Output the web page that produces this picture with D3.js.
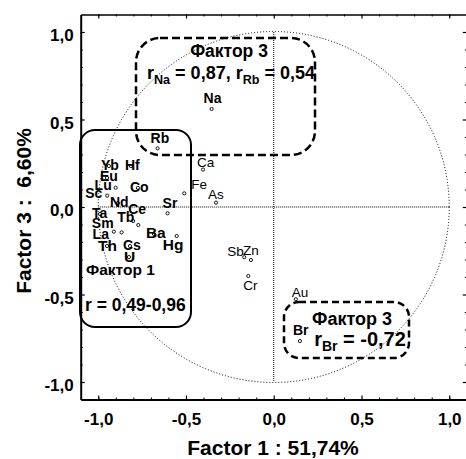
<!DOCTYPE html>
<html>
<head>
<meta charset="utf-8">
<script src="https://cdn.jsdelivr.net/npm/d3@7"></script>
<style>
  html, body { margin: 0; padding: 0; background: #fff; }
  svg { display: block; font-family: Arial, "Liberation Sans", sans-serif; }
  text { white-space: pre; }
</style>
</head>
<body>
<svg id="chart" width="466" height="459"></svg>
<script>
// Factor loadings (Factor 1 vs Factor 3) for each element
const elements = ["Na","Rb","Ca","Fe","As","Sb","Zn","Cr","Au","Br",
                  "Sr","Lu","Sc","Ce","Tb","Sm","La","Hg",
                  "Yb","Hf","Eu","Co","Nd","Ta","Ba","Th","Cs","U"];
const factor1 = [-0.354,-0.662,-0.403,-0.510,-0.329,-0.168,-0.130,-0.145, 0.126, 0.149,
                 -0.605,-0.901,-0.949,-0.801,-0.772,-0.911,-0.867,-0.553,
                 -0.939,-0.814,-0.950,-0.774,-0.888,-0.990,-0.683,-0.950,-0.819,-0.825];
const factor3 = [ 0.560, 0.335, 0.214, 0.078, 0.025,-0.287,-0.303,-0.394,-0.527,-0.766,
                 -0.036, 0.110, 0.065,-0.080,-0.103,-0.141,-0.145,-0.166,
                  0.234, 0.234, 0.166, 0.109, 0.023,-0.040,-0.154,-0.223,-0.223,-0.286];

const majorTicks = [-1.0, -0.5, 0.0, 0.5, 1.0];
const minorTicks = [-1.0,-0.9,-0.8,-0.7,-0.6,-0.4,-0.3,-0.2,-0.1,0.1,0.2,0.3,0.4,0.6,0.7,0.8,0.9,1.0];
const xTitle = "Factor 1 : 51,74%";
const yTitle = "Factor 3 :  6,60%";

// label placement nudges (px) relative to each point
const labelNudge = {
  Na:[-8,-6], Rb:[-7,-5], Ca:[-6,-2.5], Fe:[7,-4], As:[-8,-4], Sb:[-17,-1], Zn:[-8,-5],
  Cr:[-5,14], Au:[-4,-2.5], Br:[-7,-6], Sr:[-5,-5], Lu:[-21,2], Sc:[-22,2], Ce:[-5,-7],
  Tb:[-21,-3], Sm:[-22,-4], La:[-29,7], Hg:[-14,14], Yb:[-8,4], Hf:[-6,4], Eu:[-7,3],
  Co:[-8,4], Nd:[-8,4], Ta:[-8,4], Ba:[-8,4], Th:[-9,5], Cs:[-7,4], U:[-5,5]
};
const plainLabels = new Set(["Ca","Fe","As","Sb","Zn","Cr","Au"]);
const bigLabels = new Set(["Ba","Hg","Th","U"]);

const svg = d3.select("#chart");
const x = d3.scaleLinear().domain([-1.1, 1.1]).range([80.7, 466.8]);
const y = d3.scaleLinear().domain([-1.1, 1.1]).range([399.5, 14.5]);
const fmt = d => d.toFixed(1).replace(".", ",");

// unit circle and the zero cross lines
const circ = svg.append("g").attr("fill", "none").attr("stroke", "#000").attr("stroke-width", 1);
circ.append("circle")
  .attr("cx", x(0)).attr("cy", y(0)).attr("r", x(1) - x(0))
  .attr("stroke-dasharray", "1,2");
circ.append("line").attr("x1", x(0)).attr("x2", x(0)).attr("y1", y(1)).attr("y2", y(-1))
  .attr("stroke-dasharray", "1,1");
circ.append("line").attr("x1", x(-1)).attr("x2", x(1)).attr("y1", y(0)).attr("y2", y(0))
  .attr("stroke-dasharray", "1,1");

// axes with inward ticks on all four sides
function styleAxis(g, width) {
  g.select(".domain").attr("stroke-width", width);
  g.selectAll(".tick line").attr("stroke-width", 1.2);
  g.selectAll("text").attr("font-size", 17).attr("font-weight", "bold").attr("fill", "#000");
}
const H = 399.5, L = 80.7, T = 14.5, R = 466.8;

svg.append("g").attr("transform", `translate(0,${H})`)
  .call(d3.axisBottom(x).tickValues(minorTicks).tickSize(-2).tickFormat(""))
  .call(g => g.select(".domain").remove());
svg.append("g").attr("transform", `translate(0,${H})`)
  .call(d3.axisBottom(x).tickValues(majorTicks).tickSizeInner(-4).tickSizeOuter(0).tickPadding(13).tickFormat(fmt))
  .call(g => styleAxis(g, 2));

svg.append("g").attr("transform", `translate(${L},0)`)
  .call(d3.axisLeft(y).tickValues(minorTicks).tickSize(-2).tickFormat(""))
  .call(g => g.select(".domain").remove());
svg.append("g").attr("transform", `translate(${L},0)`)
  .call(d3.axisLeft(y).tickValues(majorTicks).tickSizeInner(-4).tickSizeOuter(0).tickPadding(7).tickFormat(fmt))
  .call(g => styleAxis(g, 2))
  .call(g => g.selectAll("text").attr("dy", "0.5em"));

svg.append("g").attr("transform", `translate(0,${T})`)
  .call(d3.axisTop(x).tickValues(minorTicks).tickSize(-2).tickFormat(""))
  .call(g => g.select(".domain").remove());
svg.append("g").attr("transform", `translate(0,${T})`)
  .call(d3.axisTop(x).tickValues(majorTicks).tickSizeInner(-4).tickSizeOuter(0).tickFormat(""))
  .call(g => styleAxis(g, 1.5));

svg.append("g").attr("transform", `translate(${R},0)`)
  .call(d3.axisRight(y).tickValues(minorTicks).tickSize(-2).tickFormat(""))
  .call(g => g.select(".domain").remove());
svg.append("g").attr("transform", `translate(${R},0)`)
  .call(d3.axisRight(y).tickValues(majorTicks).tickSizeInner(-4).tickSizeOuter(0).tickFormat(""))
  .call(g => styleAxis(g, 1.5));

// axis titles
svg.append("text").attr("x", 273).attr("y", 455)
  .attr("text-anchor", "middle").attr("font-size", 21).attr("font-weight", "bold")
  .text(xTitle);
svg.append("text").attr("transform", "translate(31,211) rotate(-90)")
  .attr("text-anchor", "middle").attr("font-size", 21).attr("font-weight", "bold")
  .text(yTitle);

// group outlines
const boxes = svg.append("g").attr("fill", "none").attr("stroke", "#000");
boxes.append("rect").attr("x", 136).attr("y", 38).attr("width", 179).attr("height", 117)
  .attr("rx", 24).attr("stroke-width", 2.5).attr("stroke-dasharray", "8,4");
boxes.append("rect").attr("x", 80).attr("y", 130).attr("width", 111).attr("height", 197)
  .attr("rx", 15).attr("stroke-width", 2);
boxes.append("rect").attr("x", 284).attr("y", 302).attr("width", 125).attr("height", 56)
  .attr("rx", 15).attr("stroke-width", 2.5).attr("stroke-dasharray", "7,4");

// group annotations
function subText(xc, yb, size, parts) {
  const t = svg.append("text").attr("x", xc).attr("y", yb).attr("text-anchor", "middle")
    .attr("font-size", size).attr("font-weight", "bold");
  parts.forEach(p => {
    t.append("tspan").attr("font-size", p.sub ? size * 0.7 : size)
      .attr("dy", p.sub ? 5 : (p.after ? -5 : 0)).text(p.t);
  });
}
svg.append("text").attr("x", 229).attr("y", 57).attr("text-anchor", "middle")
  .attr("font-size", 17.5).attr("font-weight", "bold").text("Фактор 3");
subText(231, 79, 18, [{t:"r"},{t:"Na",sub:true},{t:" = 0,87, r",after:true},{t:"Rb",sub:true},{t:" = 0,54",after:true}]);

svg.append("text").attr("x", 86).attr("y", 275)
  .attr("font-size", 15.5).attr("font-weight", "bold").text("Фактор 1");
svg.append("text").attr("x", 85).attr("y", 311)
  .attr("font-size", 17.5).attr("font-weight", "bold").text("r = 0,49-0,96");

svg.append("text").attr("x", 352).attr("y", 325).attr("text-anchor", "middle")
  .attr("font-size", 18).attr("font-weight", "bold").text("Фактор 3");
subText(360, 346, 20, [{t:"r"},{t:"Br",sub:true},{t:" = -0,72",after:true}]);

// points and their labels
const pts = elements.map((e, i) => ({ name: e, f1: factor1[i], f3: factor3[i] }));
svg.append("g").selectAll("circle").data(pts).join("circle")
  .attr("cx", d => x(d.f1)).attr("cy", d => y(d.f3)).attr("r", 1.6)
  .attr("fill", "#fff").attr("stroke", "#000").attr("stroke-width", 0.9);
svg.append("g").selectAll("text").data(pts).join("text")
  .attr("x", d => x(d.f1) + labelNudge[d.name][0])
  .attr("y", d => y(d.f3) + labelNudge[d.name][1])
  .attr("font-size", d => plainLabels.has(d.name) ? 13.5 : (bigLabels.has(d.name) ? 15.5 : 14))
  .attr("font-weight", d => plainLabels.has(d.name) ? "normal" : "bold")
  .text(d => d.name);
</script>
</body>
</html>
